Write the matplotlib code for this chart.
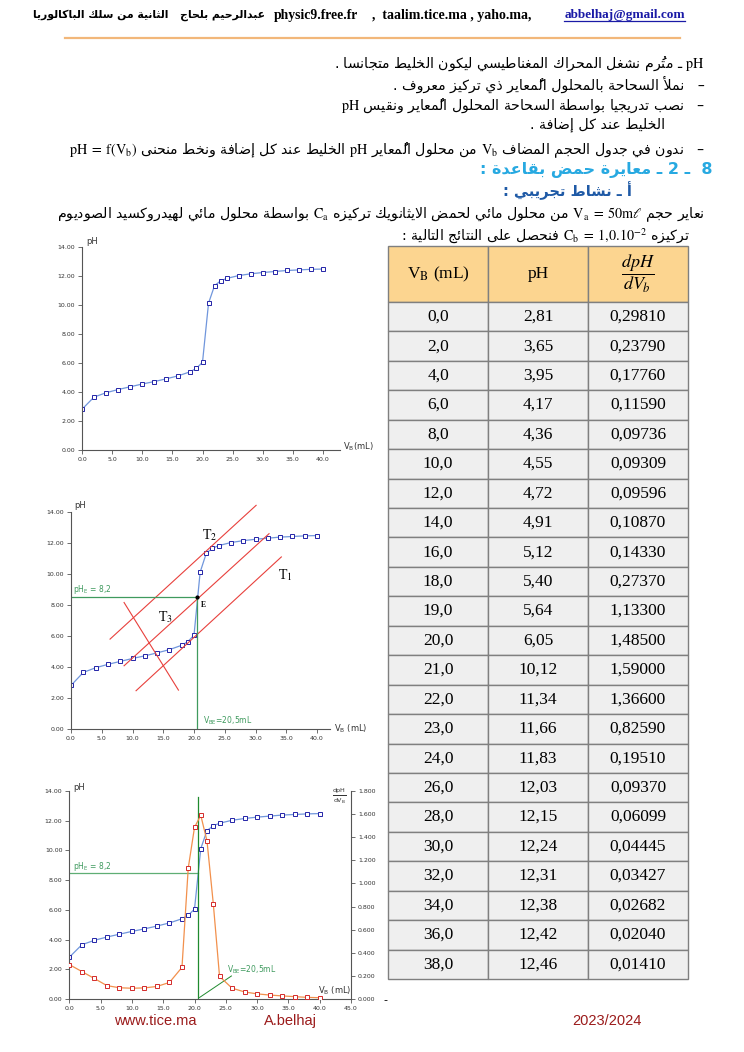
import numpy as np
import matplotlib
matplotlib.use('Agg')
import matplotlib.pyplot as plt
from matplotlib.lines import Line2D
from matplotlib.patches import Rectangle
from matplotlib.transforms import IdentityTransform

W, H = 744, 1052
plt.rcParams['mathtext.fontset'] = 'stix'

# ---- data (table) ----
vb = [0, 2, 4, 6, 8, 10, 12, 14, 16, 18, 19, 20, 21, 22, 23, 24, 26, 28, 30, 32, 34, 36, 38]
ph = [2.81, 3.65, 3.95, 4.17, 4.36, 4.55, 4.72, 4.91, 5.12, 5.40, 5.64, 6.05, 10.12,
      11.34, 11.66, 11.83, 12.03, 12.15, 12.24, 12.31, 12.38, 12.42, 12.46]
dph = [0.29810, 0.23790, 0.17760, 0.11590, 0.09736, 0.09309, 0.09596, 0.10870, 0.14330,
       0.27370, 1.13300, 1.48500, 1.59000, 1.36600, 0.82590, 0.19510, 0.09370, 0.06099,
       0.04445, 0.03427, 0.02682, 0.02040, 0.01410]
# point at 40 mL, only on the graphs
vb_last = 40.0
ph_last = 12.48
dph_last = 0.011

vb_c = vb + [vb_last]
ph_c = ph + [ph_last]
dph_c = dph + [dph_last]

# equivalence point as drawn
v_e = 20.5
ph_e = 8.5

# tangents method (graph 2): T2, middle, T1, perpendicular T3
tan_x = [[6.35, 30.1], [8.63, 32.2], [10.58, 34.2], [8.63, 17.47]]
tan_y = [[5.8, 14.43], [4.08, 12.6], [2.47, 11.1], [8.16, 2.51]]

# ---- petit outil pour l'arabe (formes de presentation + ordre droite-gauche) ----
AR_FORMS = {
    0x0621: (0xFE80, 1), 0x0622: (0xFE81, 2), 0x0623: (0xFE83, 2), 0x0624: (0xFE85, 2),
    0x0625: (0xFE87, 2), 0x0626: (0xFE89, 4), 0x0627: (0xFE8D, 2), 0x0628: (0xFE8F, 4),
    0x0629: (0xFE93, 2), 0x062A: (0xFE95, 4), 0x062B: (0xFE99, 4), 0x062C: (0xFE9D, 4),
    0x062D: (0xFEA1, 4), 0x062E: (0xFEA5, 4), 0x062F: (0xFEA9, 2), 0x0630: (0xFEAB, 2),
    0x0631: (0xFEAD, 2), 0x0632: (0xFEAF, 2), 0x0633: (0xFEB1, 4), 0x0634: (0xFEB5, 4),
    0x0635: (0xFEB9, 4), 0x0636: (0xFEBD, 4), 0x0637: (0xFEC1, 4), 0x0638: (0xFEC5, 4),
    0x0639: (0xFEC9, 4), 0x063A: (0xFECD, 4), 0x0641: (0xFED1, 4), 0x0642: (0xFED5, 4),
    0x0643: (0xFED9, 4), 0x0644: (0xFEDD, 4), 0x0645: (0xFEE1, 4), 0x0646: (0xFEE5, 4),
    0x0647: (0xFEE9, 4), 0x0648: (0xFEED, 2), 0x0649: (0xFEEF, 2), 0x064A: (0xFEF1, 4),
}
LAM_ALEF = {0x0622: 0xFEF5, 0x0623: 0xFEF7, 0x0625: 0xFEF9, 0x0627: 0xFEFB}
HARAKAT = set(range(0x064B, 0x0653))


def joins_next(c):
    f = AR_FORMS.get(ord(c))
    return c == '\u0640' or (f is not None and f[1] == 4)


def joinable(c):
    f = AR_FORMS.get(ord(c))
    return c == '\u0640' or (f is not None and f[1] > 1)


def shape_word(w):
    clusters = []
    for c in w:
        if ord(c) in HARAKAT and clusters:
            clusters[-1][1] += c
        else:
            clusters.append([c, ''])
    out = []
    i = 0
    n = len(clusters)
    while i < n:
        c, marks = clusters[i]
        jp = i > 0 and joins_next(clusters[i - 1][0])
        if c == '\u0644' and i + 1 < n and ord(clusters[i + 1][0]) in LAM_ALEF:
            code = LAM_ALEF[ord(clusters[i + 1][0])] + (1 if jp else 0)
            out.append(chr(code) + marks + clusters[i + 1][1])
            i += 2
            continue
        f = AR_FORMS.get(ord(c))
        if f is None:
            out.append(c + marks)
            i += 1
            continue
        base, k = f
        jn = k == 4 and i + 1 < n and joinable(clusters[i + 1][0])
        if k == 1:
            idx = 0
        elif k == 2:
            idx = 1 if jp else 0
        else:
            idx = {(False, False): 0, (True, False): 1, (False, True): 2, (True, True): 3}[(jp, jn)]
        out.append(chr(base + idx) + marks)
        i += 1
    return ''.join(reversed(out))


def rtl(line):
    toks = line.split(' ')
    kinds = []
    for t in toks:
        if any('\u0600' <= c <= '\u06ff' for c in t):
            kinds.append('R')
        elif any(c.isalnum() for c in t):
            kinds.append('L')
        else:
            kinds.append('N')
    for i, k in enumerate(kinds):
        if k == 'N':
            left = next((kinds[j] for j in range(i - 1, -1, -1) if kinds[j] != 'N'), 'R')
            right = next((kinds[j] for j in range(i + 1, len(kinds)) if kinds[j] != 'N'), 'R')
            if left == 'L' and right == 'L':
                kinds[i] = 'L'
    units = []
    for t, k in zip(toks, kinds):
        if k == 'L' and units and units[-1][0] == 'L':
            units[-1][1].append(t)
        else:
            units.append([k, [shape_word(t) if k == 'R' else t]])
    return ' '.join(' '.join(u[1]) for u in reversed(units))


fig = plt.figure(figsize=(W / 100, H / 100), dpi=100)
fig.patch.set_facecolor('white')
renderer = fig.canvas.get_renderer()


def ftext(x, y, s, **kw):
    return fig.text(x / W, 1 - y / H, s, **kw)


def px_axes(x0, y_top, x1, y_bot):
    return fig.add_axes([x0 / W, 1 - y_bot / H, (x1 - x0) / W, (y_bot - y_top) / H])


# ---- entete ----
t = ftext(685, 15, 'abbelhaj@gmail.com', ha='right', va='center', color='#1a1aa6',
          family='Liberation Serif', weight='bold', fontsize=9.5)
fig.canvas.draw()
bb = t.get_window_extent(renderer)
fig.add_artist(Line2D([bb.x0, bb.x1], [bb.y0 + 0.5, bb.y0 + 0.5], transform=IdentityTransform(),
                      color='#1a1aa6', lw=0.9))
ftext(372, 15, ',  taalim.tice.ma , yaho.ma,', ha='left', va='center',
      family='Liberation Serif', weight='bold', fontsize=10)
ftext(358, 15, 'physic9.free.fr', ha='right', va='center',
      family='Liberation Serif', weight='bold', fontsize=9.8)
ftext(265, 15, rtl('عبدالرحيم بلحاج'), ha='right', va='center',
      family='DejaVu Sans', weight='bold', fontsize=7.8)
ftext(168, 15, rtl('الثانية من سلك الباكالوريا'), ha='right', va='center',
      family='DejaVu Sans', weight='bold', fontsize=7.8)
fig.add_artist(Line2D([65 / W, 680 / W], [1 - 38 / H, 1 - 38 / H], color='#f2b77a', lw=1.6))

# ---- texte ----
body = [
    (r'$\mathrm{pH}$ ـ مترُم نشغل المحراك المغناطيسي ليكون الخليط متجانسا .', 705, 63, 'black', 'normal', 10.2),
    ('–   نملأ السحاحة بالمحلول المُعاير ذي تركيز معروف .', 705, 84, 'black', 'normal', 10.2),
    (r'–   نصب تدريجيا بواسطة السحاحة المحلول المُعاير ونقيس $\mathrm{pH}$', 705, 105, 'black', 'normal', 10.2),
    ('الخليط عند كل إضافة .', 665, 125, 'black', 'normal', 10.2),
    (r'–   ندون في جدول الحجم المضاف $\mathrm{V_b}$ من محلول المُعاير $\mathrm{pH}$ الخليط عند كل إضافة ونخط منحنى $\mathrm{pH\;=\;f(V_b)}$',
     705, 150, 'black', 'normal', 10.2),
    ('8  ـ 2 ـ معايرة حمض بقاعدة :', 712, 170, '#27a9e1', 'bold', 11.5),
    ('أ ـ نشاط تجريبي :', 632, 191, '#1f5aa6', 'bold', 10.5),
    (r'نعاير حجم $\mathrm{V_a\;=\;50m}\ell$ من محلول مائي لحمض الايثانويك تركيزه $\mathrm{C_a}$ بواسطة محلول مائي لهيدروكسيد الصوديوم',
     705, 215, 'black', 'normal', 10.2),
    (r'تركيزه $\mathrm{C_b\;=\;1{,}0.10^{-2}}$ فنحصل على النتائج التالية :', 690, 236, 'black', 'normal', 10.2),
]
for s, xr, y, col, wt, fs in body:
    ftext(xr, y, rtl(s), ha='right', va='center', color=col, weight=wt,
          family='DejaVu Sans', fontsize=fs)

# ---- tableau ----
axt = px_axes(388, 246, 688, 979)
axt.set_xlim(0, 300)
axt.set_ylim(733, 0)
axt.axis('off')
head_h = 56
row_h = (733 - head_h) / len(vb)
for c in range(3):
    axt.add_patch(Rectangle((c * 100, 0), 100, head_h, facecolor='#fcd590', edgecolor='#7f7f7f',
                            lw=1, clip_on=False))
    for r in range(len(vb)):
        axt.add_patch(Rectangle((c * 100, head_h + r * row_h), 100, row_h, facecolor='#efefef',
                                edgecolor='#7f7f7f', lw=1, clip_on=False))
axt.text(50, head_h / 2, r'V$_{\mathrm{B}}$ (mL)', ha='center', va='center',
         family='Liberation Serif', fontsize=12.5)
axt.text(150, head_h / 2, 'pH', ha='center', va='center', family='Liberation Serif', fontsize=12.5)
axt.text(250, head_h / 2, r'$\dfrac{dpH}{dV_b}$', ha='center', va='center', fontsize=13)
for r in range(len(vb)):
    yc = head_h + (r + 0.5) * row_h
    axt.text(50, yc, f'{vb[r]:.1f}'.replace('.', ','), ha='center', va='center',
             family='Liberation Serif', fontsize=12.5)
    axt.text(150, yc, f'{ph[r]:.2f}'.replace('.', ','), ha='center', va='center',
             family='Liberation Serif', fontsize=12.5)
    axt.text(250, yc, f'{dph[r]:.5f}'.replace('.', ','), ha='center', va='center',
             family='Liberation Serif', fontsize=12.5)


# ---- graphes ----
def style_axes(ax, xmax, xticks):
    ax.set_xlim(0, xmax)
    ax.set_ylim(0, 14)
    ax.patch.set_alpha(0)
    for s in ['top', 'right']:
        ax.spines[s].set_visible(False)
    for s in ['left', 'bottom']:
        ax.spines[s].set_color('#555555')
        ax.spines[s].set_linewidth(0.8)
    ax.set_xticks(xticks)
    ax.set_yticks(np.arange(0, 15, 2))
    ax.set_xticklabels([f'{v:.1f}' for v in xticks])
    ax.set_yticklabels([f'{v:.2f}' for v in np.arange(0, 15, 2)])
    ax.tick_params(length=3, width=0.6, color='#555555', labelsize=4.5, pad=2, labelcolor='#333333')


def draw_ph(ax):
    ax.plot(vb_c, ph_c, '-', color='#7096dc', lw=0.9)
    ax.plot(vb_c, ph_c, 's', ms=2.6, mfc='white', mec='#2424a8', mew=0.7)


lab = dict(family='DejaVu Sans', math_fontfamily='dejavusans', color='#333333')

# graphe 1
ax1 = px_axes(82, 247, 340, 450)
style_axes(ax1, (340 - 82) / 6.025, np.arange(0, 41, 5))
draw_ph(ax1)
ftext(86, 242, 'pH', fontsize=6, va='center', **lab)
ftext(343, 447, r'V$_\mathrm{B}$(mL)', fontsize=6, va='center', **lab)

# graphe 2
ax2 = px_axes(71, 512, 330, 729)
style_axes(ax2, (330 - 71) / 6.15, np.arange(0, 41, 5))
draw_ph(ax2)
for xs, ys in zip(tan_x, tan_y):
    ax2.plot(xs, ys, color='#e8403c', lw=0.8, clip_on=False)
ax2.plot([0, v_e], [ph_e, ph_e], color='#3f9a5e', lw=0.9)
ax2.plot([v_e, v_e], [0, ph_e], color='#3f9a5e', lw=0.9)
ax2.plot([v_e], [ph_e], 'o', color='black', ms=2)
ax2.text(0.3, 8.97, r'pH$_\mathrm{E}$ = 8,2', fontsize=5.5, va='center', color='#3f9a5e',
         family='DejaVu Sans', math_fontfamily='dejavusans')
ax2.text(21.5, 0.55, r'V$_\mathrm{BE}$=20,5mL', fontsize=5.5, va='center', color='#3f9a5e',
         family='DejaVu Sans', math_fontfamily='dejavusans')
ax2.text(21.1, 8.0, 'E', fontsize=5.5, va='center', weight='bold', family='Liberation Serif')
ax2.text(21.3, 12.5, r'T$_\mathrm{2}$', fontsize=10, va='center', family='Liberation Serif')
ax2.text(33.7, 9.9, r'T$_\mathrm{1}$', fontsize=10, va='center', family='Liberation Serif')
ax2.text(14.1, 7.2, r'T$_\mathrm{3}$', fontsize=10, va='center', family='Liberation Serif')
ftext(74, 505, 'pH', fontsize=6, va='center', **lab)
ftext(334, 729, r'V$_\mathrm{B}$ (mL)', fontsize=6, va='center', **lab)

# graphe 3
ax3 = px_axes(69.3, 791, 351, 999)
style_axes(ax3, 45, np.arange(0, 46, 5))
ax3r = ax3.twinx()
ax3r.set_ylim(0, 1.8)
ax3r.patch.set_alpha(0)
for s in ['top', 'left', 'bottom']:
    ax3r.spines[s].set_visible(False)
ax3r.spines['right'].set_color('#555555')
ax3r.spines['right'].set_linewidth(0.8)
ax3r.set_yticks(np.arange(0, 1.81, 0.2))
ax3r.set_yticklabels([f'{v:.3f}' for v in np.arange(0, 1.81, 0.2)])
ax3r.tick_params(length=3, width=0.6, color='#555555', labelsize=4.5, pad=2, labelcolor='#333333')
draw_ph(ax3)
ax3r.plot(vb_c, dph_c, '-', color='#f2904c', lw=0.9)
ax3r.plot(vb_c, dph_c, 's', ms=2.6, mfc='white', mec='#d42a2a', mew=0.7)
ax3.plot([0, v_e], [ph_e, ph_e], color='#5fae74', lw=0.9)
ax3.plot([20.6, 20.6], [0, 13.6], color='#1f8a2e', lw=0.9)
ax3.plot([20.8, 25.9], [0.1, 1.55], color='#1f8a2e', lw=0.7)
ax3.text(0.6, 8.9, r'pH$_\mathrm{E}$ = 8,2', fontsize=5.5, va='center', color='#3f9a5e',
         family='DejaVu Sans', math_fontfamily='dejavusans')
ax3.text(25.2, 1.95, r'V$_\mathrm{BE}$=20,5mL', fontsize=5.5, va='center', color='#3f9a5e',
         family='DejaVu Sans', math_fontfamily='dejavusans')
ftext(73, 788, 'pH', fontsize=6, va='center', **lab)
ftext(347, 796, r'$\frac{\mathrm{dpH}}{\mathrm{dV_B}}$', fontsize=6.5, va='center', ha='right', **lab)
ftext(318, 991, r'V$_\mathrm{B}$ (mL)', fontsize=6, va='center', **lab)

# ---- pied de page ----
foot = dict(family='Liberation Sans', fontsize=10.5, color='#9b1b1b', ha='center', va='center')
ftext(155, 1021, 'www.tice.ma', **foot)
ftext(290, 1021, 'A.belhaj', **foot)
ftext(607, 1021, '2023/2024', **foot)
ftext(385, 1000, '-', fontsize=8, ha='center', va='center')

fig.savefig('out.png', dpi=100)
